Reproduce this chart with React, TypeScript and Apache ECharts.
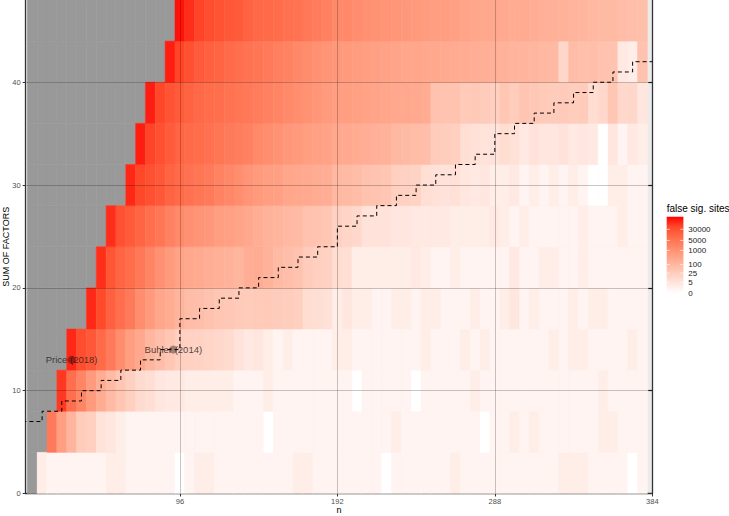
import React, { useEffect, useRef } from "react";
import * as echarts from "echarts";

// ---------------- data ----------------
const xTickValues = [96, 192, 288, 384];
const yTickValues = [0, 10, 20, 30, 40];
const xGridValues = [96, 192, 288];
const yGridValues = [10, 20, 30, 40];
const rightTickValues = [10, 20, 30, 40];

// lower edge of each "sum of factors" band (band height 4)
const rowSums = [0, 4, 8, 12, 16, 20, 24, 28, 32, 36, 40, 44];
// first n (column centre) with data in each band; columns step by 6
const rowFirstN = [12, 18, 24, 30, 42, 48, 54, 66, 72, 78, 90, 96];

// false significant sites per cell
const row0 = [2,1,1,1,1,1,1,2,2,1, 1,1,1,1,0,1,2,2,1,1, 1,1,1,1,1,1,2,2,1,1, 1,1,1,1,1,0,1,1,1,1, 1,1,2,1,1,1,1,1,1,1, 1,1,1,2,2,2,1,1,1,1, 0,1];
const row1 = [3800,470,120,27,21,5,4,2,1,1, 1,1,1,1,1,1,1,1,1,1, 1,1,0,1,1,1,1,1,1,1, 1,1,1,1,1,2,1,1,1,1, 1,1,1,1,0,1,1,2,1,2, 1,1,1,1,1,1,2,2,1,1, 1];
const row2 = [65000,7100,2100,600,200,83,39,21,9,7, 4,3,3,2,2,2,2,2,1,1, 1,2,1,1,1,1,1,1,1,1, 0,1,1,1,1,1,0,1,1,1, 1,1,2,1,1,1,1,1,1,1, 1,1,1,1,1,2,1,1,1,1];
const row3 = [95000,35000,22000,9100,3800,1300,470,260,107,65, 39,21,18,16,14,11,9,5,3,4, 2,1,2,1,1,1,1,2,2,1, 1,1,1,1,1,1,2,1,1,1, 2,1,2,1,1,1,1,1,1,2, 1,2,2,1,1,1,1,2,1];
const row4 = [95000,40000,15000,7100,3800,1300,600,290,200,120, 74,65,51,39,35,30,27,30,30,27, 24,21,8,7,6,2,4,2,2,1, 1,2,2,1,2,2,1,1,1,2, 1,1,2,4,1,2,1,1,1,2, 1,2,2,1,1,1,1];
const row5 = [84000,24000,12000,8000,4300,2100,1100,600,370,260, 230,180,160,140,107,180,200,140,83,65, 51,27,21,18,8,7,2,2,2,2, 2,2,3,2,1,1,2,1,1,1, 1,1,3,1,1,2,2,1,1,2, 1,1,1,1,1,1];
const row6 = [84000,31000,19000,12000,7100,4900,2600,1600,1100,880, 690,470,420,330,260,180,140,120,94,83, 51,45,39,18,14,11,5,5,5,4, 4,3,3,3,3,2,2,2,2,3, 2,1,2,1,1,1,1,1,2,1, 1,1,2,1,1];
const row7 = [95000,45000,31000,22000,13000,9100,6300,4900,3800,2400, 1800,1300,880,600,470,420,290,260,230,200, 180,94,83,74,51,45,39,21,18,16, 7,6,5,6,4,3,4,2,2,3, 1,2,1,2,1,2,1,0,0,2, 2,1,1];
const row8 = [121000,51000,31000,19000,12000,9100,8000,6300,4900,3800, 3400,2600,1600,1300,990,690,600,470,420,370, 260,230,200,180,160,140,94,83,74,65, 27,24,21,7,6,5,5,8,6,3, 5,4,4,5,3,4,3,0,4,1, 3,2];
const row9 = [121000,45000,27000,19000,13000,10000,8000,7100,5600,4900, 4300,3400,2600,2100,1600,1300,990,770,600,470, 480,420,370,330,290,260,250,230,200,51, 45,46,30,31,27,21,39,24,40,35, 30,27,29,24,27,8,11,39,11,12, 4];
const row10 = [121000,51000,31000,19000,15000,12000,9100,7100,5600,4900, 3800,3000,2400,1800,1400,1100,880,690,600,530, 470,420,370,330,290,290,260,250,230,220, 200,180,170,160,140,120,120,110,94,83, 12,74,58,65,51,45,3,2,51];
const row11 = [155000,84000,51000,35000,27000,22000,19000,13000,10000,9100, 8000,6300,5600,4300,3400,2600,1600,1700,1300,1100, 990,880,770,690,600,530,470,480,420,330, 290,260,250,230,200,210,180,160,150,140, 120,110,94,83,85,74,65,58];
const rows = [row0, row1, row2, row3, row4, row5, row6, row7, row8, row9, row10, row11];

// dashed threshold line (step function)
const stepN = [0,12,24,36,48,60,72,84,96,108,120,132,144,156,168,180,192,204,216,228,240,252,264,276,288,300,312,324,336,348,360,372,384];
const stepSum = [7,8,9,10,11,12,13,14,17,18,19,20,21,22,23,24,26,27,28,29,30,31,32,33,35,36,37,38,39,40,41,42,42];

// labelled studies
const studyNames = ["Price (2018)", "Buhler (2014)"];
const studyN = [30, 92];
const studySum = [13, 14];

// legend
const legendBreaks = [0, 5, 25, 100, 1000, 5000, 30000];
const legendTitle = "false sig. sites";

// ---------------- styling ----------------
const FONT = '"Liberation Sans", Arial, Helvetica, sans-serif';
const LOG_MAX = 5.36;
const COL_W = 6;
const ROW_H = 4;
const FIRST_COL = 6;
const NA_COLOR = "#999999";
// white -> red, interpolated in Lab (as ggplot does)
const RAMP = ["#ffffff", "#ffe7df", "#ffcfbf", "#ffb7a0", "#ff9e81", "#ff8464", "#ff6846", "#ff4628", "#ff0000"];

const toLog = (v: number) => Math.log10(v + 1);

function buildOption() {
  const heatData: number[][] = [];
  const naData: number[][] = [];
  rows.forEach((vals, r) => {
    const yc = rowSums[r] + ROW_H / 2;
    for (let n = FIRST_COL; n < rowFirstN[r]; n += COL_W) naData.push([n, yc]);
    vals.forEach((v, i) => heatData.push([rowFirstN[r] + i * COL_W, yc, toLog(v), v]));
  });

  const cell = (fixed?: string) => (params: any, api: any) => {
    const x = api.value(0);
    const y = api.value(1);
    const a = api.coord([x - COL_W / 2, y + ROW_H / 2]);
    const b = api.coord([x + COL_W / 2, y - ROW_H / 2]);
    const c = fixed || api.visual("color");
    return {
      type: "rect",
      shape: { x: a[0], y: a[1], width: b[0] - a[0], height: b[1] - a[1] },
      style: { fill: c, stroke: c, lineWidth: 0.5 },
    };
  };

  // legend geometry
  const barX = 666.7, barTop = 216.7, barW = 16.7, barH = 76.6;
  const yFor = (v: number) => barTop + barH * (1 - toLog(v) / LOG_MAX);
  const stops = RAMP.map((c, i) => ({ offset: 1 - i / (RAMP.length - 1), color: c })).reverse();

  const graphic: any[] = [
    {
      type: "text",
      x: barX,
      y: 208.3,
      style: { text: legendTitle, fontSize: 10, fontFamily: FONT, fill: "#000", verticalAlign: "middle", align: "left" },
    },
    {
      type: "rect",
      shape: { x: barX, y: barTop, width: barW, height: barH },
      style: { fill: new echarts.graphic.LinearGradient(0, 0, 0, 1, stops) },
    },
  ];
  legendBreaks.forEach((b) => {
    const y = yFor(b);
    graphic.push({
      type: "text",
      x: 688.3,
      y,
      style: { text: String(b), fontSize: 8, fontFamily: FONT, fill: "#1a1a1a", verticalAlign: "middle", align: "left" },
    });
    graphic.push({ type: "line", shape: { x1: barX, y1: y, x2: barX + 3.3, y2: y }, style: { stroke: "rgba(255,255,255,0.8)", lineWidth: 0.8 } });
    graphic.push({ type: "line", shape: { x1: barX + barW - 3.3, y1: y, x2: barX + barW, y2: y }, style: { stroke: "rgba(255,255,255,0.8)", lineWidth: 0.8 } });
  });

  return {
    animation: false,
    backgroundColor: "#ffffff",
    textStyle: { fontFamily: FONT },
    grid: {
      left: 25.7,
      right: 76.7,
      top: 0,
      bottom: 22.5,
      containLabel: false,
      outerBoundsMode: "none",
      show: true,
      backgroundColor: "#ebebeb",
      borderWidth: 0,
    },
    xAxis: {
      type: "value",
      min: 2,
      max: 384,
      name: "n",
      nameLocation: "middle",
      nameGap: 11.5,
      nameMoveOverlap: false,
      nameTextStyle: { fontSize: 9, color: "#000", fontFamily: FONT },
      axisLine: { show: true, onZero: false, lineStyle: { color: "#333", width: 1.3 } },
      axisTick: { show: true, length: 3, customValues: xTickValues, lineStyle: { color: "#333" } },
      axisLabel: { customValues: xTickValues, fontSize: 7.5, color: "#4d4d4d", margin: 4, fontFamily: FONT },
      splitLine: { show: false },
    },
    yAxis: [
      {
        type: "value",
        min: 0,
        max: 48,
        name: "SUM OF FACTORS",
        nameLocation: "middle",
        nameGap: 15,
        nameRotate: 90,
        nameMoveOverlap: false,
        nameTextStyle: { fontSize: 9, color: "#000", fontFamily: FONT },
        axisLine: { show: true, onZero: false, lineStyle: { color: "#333", width: 1.3 } },
        axisTick: { show: true, length: 3, customValues: yTickValues, lineStyle: { color: "#333" } },
        axisLabel: { customValues: yTickValues, fontSize: 7.5, color: "#4d4d4d", margin: 5, fontFamily: FONT },
        splitLine: { show: false },
      },
      {
        type: "value",
        position: "right",
        min: 0,
        max: 48,
        axisLine: { show: true, onZero: false, lineStyle: { color: "#333", width: 1.3 } },
        axisTick: { show: true, inside: true, length: 4, customValues: rightTickValues, lineStyle: { color: "#222", width: 1.2 } },
        axisLabel: { show: false },
        splitLine: { show: false },
      },
    ],
    visualMap: {
      show: false,
      type: "continuous",
      seriesIndex: 1,
      dimension: 2,
      min: 0,
      max: LOG_MAX,
      inRange: { color: RAMP },
    },
    series: [
      {
        type: "custom",
        name: "na",
        coordinateSystem: "cartesian2d",
        renderItem: cell(NA_COLOR),
        data: naData,
        encode: { x: 0, y: 1 },
        silent: true,
        z: 1,
      },
      {
        type: "custom",
        name: "false sig. sites",
        coordinateSystem: "cartesian2d",
        renderItem: cell(),
        data: heatData,
        encode: { x: 0, y: 1 },
        silent: true,
        z: 1,
      },
      {
        type: "line",
        data: stepN.map((n, i) => [n, stepSum[i]]),
        step: "end",
        symbol: "none",
        clip: true,
        silent: true,
        z: 5,
        lineStyle: { color: "#000", width: 1, type: [4, 3] },
        markLine: {
          silent: true,
          symbol: ["none", "none"],
          label: { show: false },
          lineStyle: { color: "rgba(0,0,0,0.22)", width: 1, type: "solid" },
          data: [
            ...xGridValues.map((v) => ({ xAxis: v })),
            ...yGridValues.map((v) => ({ yAxis: v })),
          ],
        },
      },
      {
        type: "scatter",
        data: studyNames.map((s, i) => ({ name: s, value: [studyN[i], studySum[i]] })),
        symbolSize: 8,
        z: 6,
        silent: true,
        itemStyle: { color: "rgba(0,0,0,0.45)" },
        label: {
          show: true,
          position: "inside",
          formatter: "{b}",
          color: "#1a1a1a",
          fontSize: 9.5,
          fontFamily: FONT,
        },
      },
    ],
    graphic,
  };
}

export default function App() {
  const ref = useRef<HTMLDivElement>(null);
  useEffect(() => {
    document.body.style.margin = "0";
    if (!ref.current) return;
    const chart = echarts.init(ref.current, null, { renderer: "svg", width: 729, height: 516 });
    chart.setOption(buildOption() as any);
    return () => chart.dispose();
  }, []);
  return <div ref={ref} style={{ width: 729, height: 516 }} />;
}
